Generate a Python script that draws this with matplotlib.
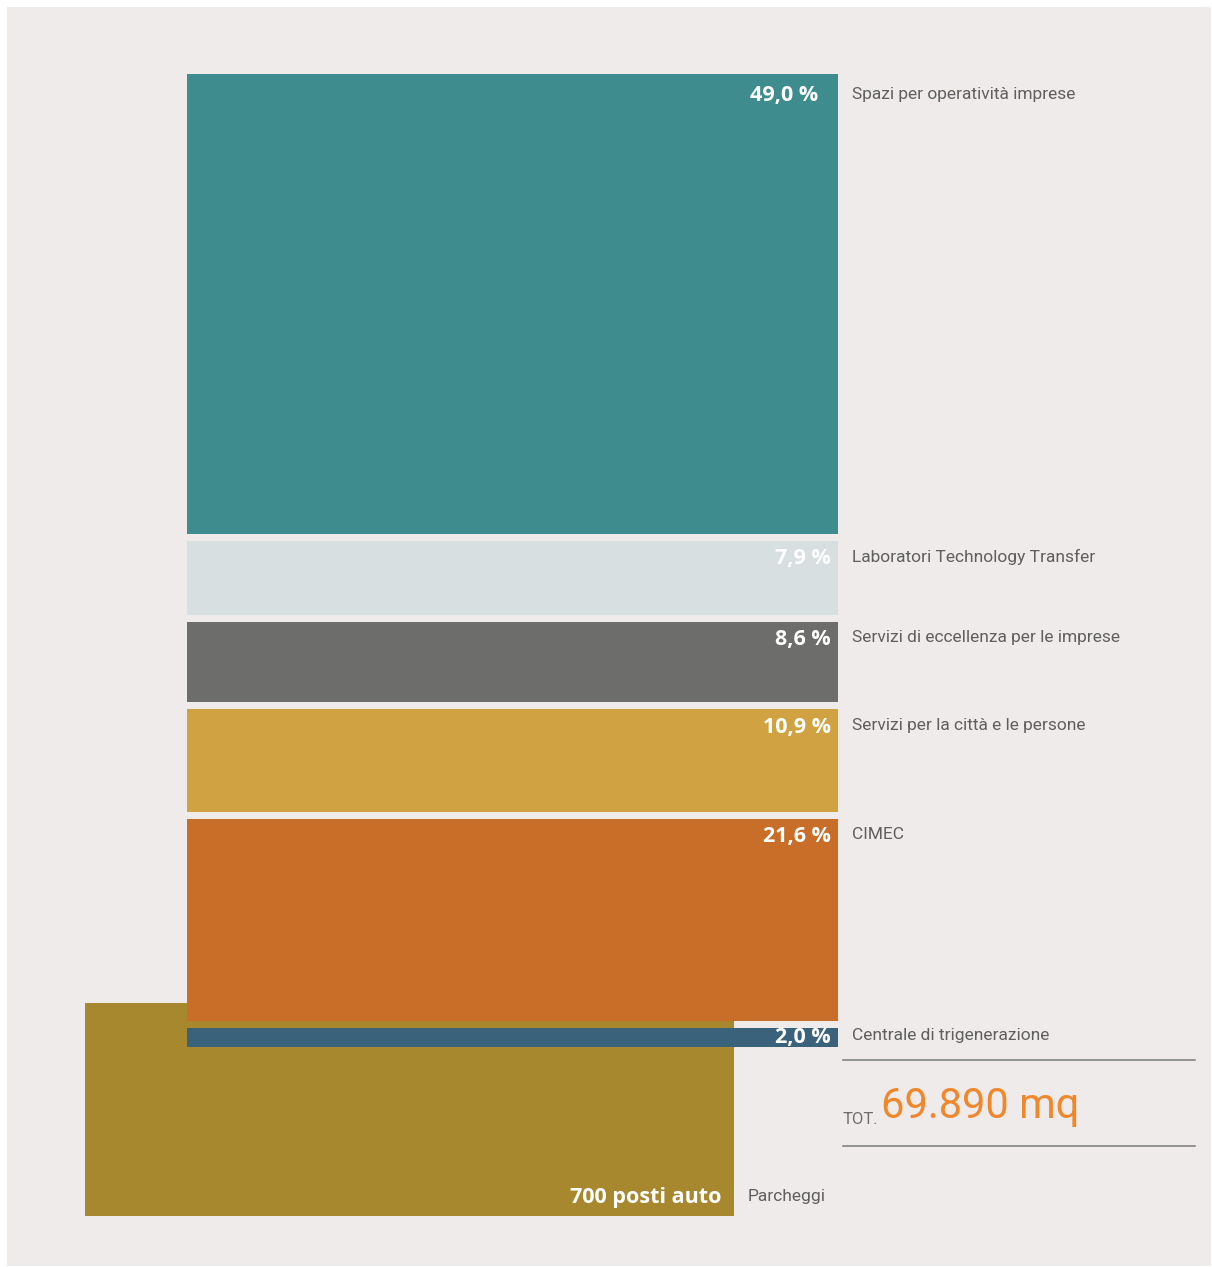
import matplotlib
matplotlib.use('Agg')
import matplotlib.pyplot as plt
from matplotlib.patches import Rectangle
import numpy as np

# === PALETTE ===
PANEL    = '#EFEBEA'
LABEL    = '#5F5F5F'
RULE     = '#7A7A7A'
TOT_ORNG = '#F0872B'
COLORS   = ['#3F8C8F', '#D7DFE0', '#6D6D6B', '#D1A241', '#C96E28', '#3A637B']
PARK_COL = '#A8882F'

# === DATA ===
CATEGORIES = [
    'Spazi per operatività imprese',
    'Laboratori Technology Transfer',
    'Servizi di eccellenza per le imprese',
    'Servizi per la città e le persone',
    'CIMEC',
    'Centrale di trigenerazione',
]
SHARES = [49.0, 7.9, 8.6, 10.9, 21.6, 2.0]
PARKING_SPACES = 700
PARKING_LABEL = 'Parcheggi'
TOTAL_MQ = '69.890'

# === FONTS ===
NARROW = 'Roboto'
LBL_SIZE = 12.5
BOLD = 'Open Sans'

# === FIGURE (axes in pixel units) ===
W, H = 1212, 1267
fig = plt.figure(figsize=(W / 100, H / 100), dpi=100)
fig.patch.set_facecolor('white')
ax = fig.add_axes([0, 0, 1, 1])
ax.set_xlim(0, W)
ax.set_ylim(H, 0)
ax.axis('off')

ax.add_patch(Rectangle((7, 7), W - 8, H - 8, facecolor=PANEL, edgecolor='none', zorder=0))

# geometry
PX_PER_PCT = 9.38
GAP = 7
TOP = 74
BAR_X, BAR_W = 187, 651

shares = np.array(SHARES)
heights = shares * PX_PER_PCT
tops = TOP + np.concatenate([[0], np.cumsum(heights)[:-1]]) + GAP * np.arange(len(shares))

# parking block (behind)
ax.bar(85, 213, width=649, bottom=1003, align='edge', color=PARK_COL, zorder=1)
ax.text(721, 1197, f'{PARKING_SPACES} posti auto', ha='right', va='center',
        fontsize=15.5, fontweight='bold', family=BOLD, color='white', zorder=5)
ax.text(748, 1197, PARKING_LABEL, ha='left', va='center',
        fontsize=LBL_SIZE, family=NARROW, color=LABEL, zorder=5)

# stacked share bars
ax.bar(np.full(len(shares), BAR_X), heights, width=BAR_W, bottom=tops,
       align='edge', color=COLORS, zorder=2)

for i, (cat, s, t, h) in enumerate(zip(CATEGORIES, shares, tops, heights)):
    yc = min(t + (22 if i == 0 else 18), t + h / 2)
    xr = 818 if i == 0 else 831
    lbl = f'{s:.1f}'.replace('.', ',') + ' %'
    ax.text(xr, yc, lbl, ha='right', va='center', fontsize=15.5,
            fontweight='bold', family=BOLD, color='white', zorder=5)
    ax.text(852, yc - 2, cat, ha='left', va='center', fontsize=LBL_SIZE,
            family=NARROW, color=LABEL, zorder=5)

# total box
ax.plot([843, 1195], [1060, 1060], color=RULE, lw=1.1, zorder=3)
ax.plot([843, 1195], [1146, 1146], color=RULE, lw=1.1, zorder=3)
tot = ax.text(843, 1124, 'TOT.', ha='left', va='baseline', fontsize=12,
              family=NARROW, color='#6E6E6E', zorder=5)
ax.annotate(f'{TOTAL_MQ} mq', xy=(1, 0), xycoords=tot,
            xytext=(1.5, 0), textcoords='offset points',
            ha='left', va='bottom', fontsize=30,
            family=NARROW, color=TOT_ORNG, zorder=5)

fig.savefig('out.png', dpi=100, facecolor='white')
plt.close(fig)
